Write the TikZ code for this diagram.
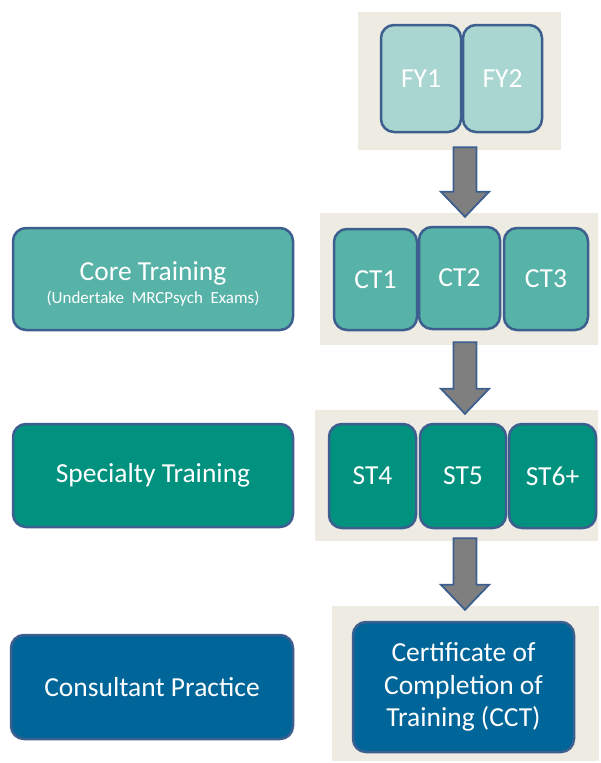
\documentclass[tikz,border=0pt]{standalone}
\usepackage{fontspec}
\setmainfont{Carlito}
\usepackage{tikz}
\usetikzlibrary{calc}
\definecolor{fyTeal}{RGB}{170,214,209}
\definecolor{ctTeal}{RGB}{87,179,168}
\definecolor{stGreen}{RGB}{0,146,126}
\definecolor{cctBlue}{RGB}{0,101,153}
\definecolor{edgeBlue}{RGB}{61,95,143}
\definecolor{panelGrey}{RGB}{237,235,226}
\definecolor{arrowGrey}{RGB}{127,127,127}

\tikzset{
  panel/.style={fill=panelGrey, inner sep=0pt},
  stage/.style={draw=edgeBlue, line width=2.5pt, rounded corners=13pt, text=white,
    inner sep=0pt, align=center, font=\fontsize{27.5}{32.5}\selectfont},
  % block arrow between two panels, shaft 23 wide, head 48 wide
  blockarrow/.style={draw=edgeBlue, fill=arrowGrey, line width=1.8pt, line join=miter,
    to path={let \p1=(\tikztostart), \p2=(\tikztotarget) in
      (\x1-11.5pt,\y1+3pt) -- (\x1+11.5pt,\y1+3pt) -- (\x1+11.5pt,\y2+21pt)
      -- (\x1+24pt,\y2+21pt) -- (\x1,\y2-4pt) -- (\x1-24pt,\y2+21pt)
      -- (\x1-11.5pt,\y2+21pt) -- cycle}}
}

\begin{document}
\begin{tikzpicture}[x=1pt, y=-1pt, line cap=round]
  \useasboundingbox (0,0) rectangle (600,763);
  % grey panels on the right
  \node[panel, minimum width=203pt, minimum height=138pt] (bgfy) at (459.5,81) {};
  \node[panel, minimum width=278pt, minimum height=132pt] (bgct) at (459,279) {};
  \node[panel, minimum width=283pt, minimum height=131pt] (bgst) at (456.5,475.5) {};
  \node[panel, minimum width=267pt, minimum height=155pt] (bgcct) at (465.5,683.5) {};
  \coordinate (mid) at (465,0);

  % arrows down the column
  \draw[blockarrow] (bgfy.south -| mid) to (bgct.north -| mid);
  \draw[blockarrow] (bgct.south -| mid) to (bgst.north -| mid);
  \draw[blockarrow] (bgst.south -| mid) to (bgcct.north -| mid);

  % foundation years
  \node[stage, fill=fyTeal, minimum width=80pt, minimum height=107pt] (fy1) at (421,78.5) {FY1};
  \node[stage, fill=fyTeal, minimum width=79pt, minimum height=107pt] (fy2) at (502.5,78.5) {FY2};

  % core training
  \node[stage, fill=ctTeal, minimum width=280pt, minimum height=102pt] (core) at (153,279)
    {\rule{0pt}{29pt}Core Training\\[-9pt]{\fontsize{17}{18}\selectfont (Undertake\ \ MRCPsych\ \ Exams)}};
  \node[stage, fill=ctTeal, minimum width=83pt, minimum height=101pt] (ct1) at (375.5,279.5) {CT1};
  \node[stage, fill=ctTeal, minimum width=81pt, minimum height=102pt] (ct2) at (459.5,278) {CT2};
  \node[stage, fill=ctTeal, minimum width=84pt, minimum height=102pt] (ct3) at (546,279) {CT3};

  % specialty training
  \node[stage, fill=stGreen, minimum width=280pt, minimum height=103pt] (spec) at (153,475.5) {Specialty Training};
  \node[stage, fill=stGreen, minimum width=87pt, minimum height=104pt] (st4) at (372.5,476) {ST4};
  \node[stage, fill=stGreen, minimum width=86pt, minimum height=104pt] (st5) at (463,476) {ST5};
  \node[stage, fill=stGreen, minimum width=87pt, minimum height=104pt] (st6) at (552.5,476) {ST6+};

  % consultant
  \node[stage, fill=cctBlue, minimum width=282pt, minimum height=104pt] (cons) at (152,687) {Consultant Practice};
  \node[stage, fill=cctBlue, minimum width=221pt, minimum height=130pt] (cct) at (463.5,687)
    {Certificate of\\Completion of\\Training (CCT)};
\end{tikzpicture}
\end{document}
